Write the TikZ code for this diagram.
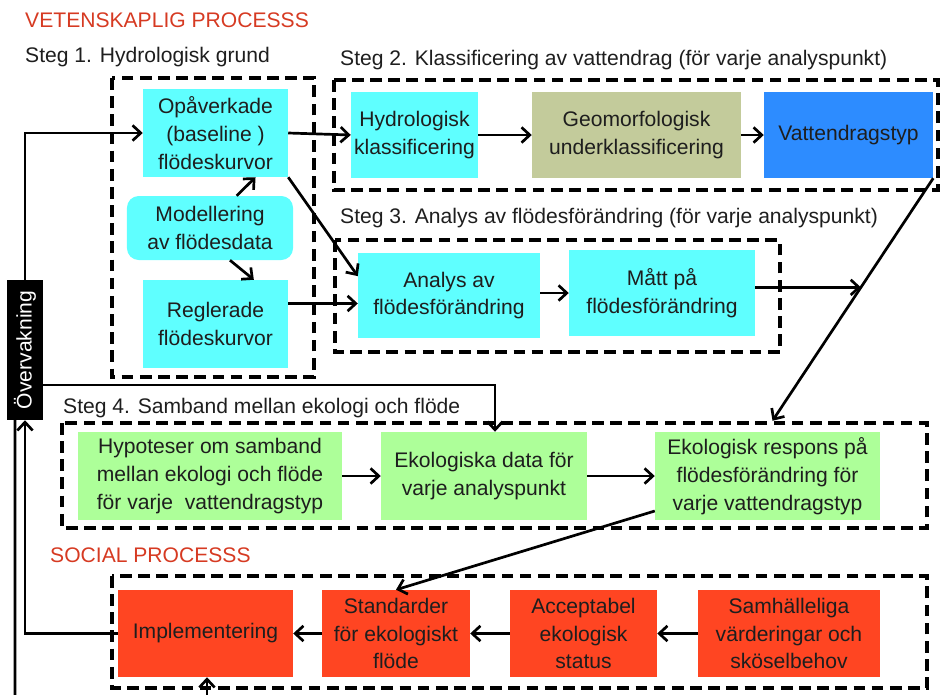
\documentclass[tikz,border=0pt]{standalone}
\usepackage{fontspec}
\setmainfont{Liberation Sans}
\usetikzlibrary{arrows.meta}
\definecolor{flowCyan}{HTML}{5FFFFF}
\definecolor{flowOlive}{HTML}{C3CB9B}
\definecolor{flowBlue}{HTML}{2D8CFF}
\definecolor{flowGreen}{HTML}{ADFF99}
\definecolor{flowRed}{HTML}{FF4522}
\definecolor{titleRed}{HTML}{D63A22}
\definecolor{textGray}{HTML}{1E1E1E}

\begin{document}
\begin{tikzpicture}[x=0.03cm, y=-0.03cm,
    every node/.style={font=\fontsize{18}{23.8}\selectfont, text=textGray},
    box/.style={align=center, inner sep=2pt},
    cyanbox/.style={box, fill=flowCyan},
    greenbox/.style={box, fill=flowGreen, minimum height=2.64cm},
    redbox/.style={box, fill=flowRed, minimum height=2.61cm},
    steglabel/.style={anchor=west, inner sep=0pt},
    groupbox/.style={line width=2.8pt, dash pattern=on 10pt off 5.5pt},
    arr/.style={line width=2.3pt, -{Straight Barb[length=7pt,width=13pt,line width=2.3pt]}}]
    \useasboundingbox (0,0) rectangle (942,695);

    % rubriker
    \node[steglabel, text=titleRed] (titlesci) at (25,20) {VETENSKAPLIG PROCESSS};
    \node[steglabel] (lab1) at (25,57) {Steg 1. Hydrologisk grund};
    \node[steglabel] (lab2) at (340,60) {Steg 2. Klassificering av vattendrag (för varje analyspunkt)};
    \node[steglabel] (lab3) at (340,218) {Steg 3. Analys av flödesförändring (för varje analyspunkt)};
    \node[steglabel] (lab4) at (63,408) {Steg 4. Samband mellan ekologi och flöde};
    \node[steglabel, text=titleRed] (titlesoc) at (50,555) {SOCIAL PROCESSS};

    % streckade grupper
    \draw[groupbox] (112,78) rectangle (314,377);
    \draw[groupbox] (334,80) rectangle (938,190);
    \draw[groupbox] (335,240) rectangle (780,352);
    \draw[groupbox] (62,423) rectangle (927,528);
    \draw[groupbox] (112,576) rectangle (927,688);

    % steg 1
    \node[cyanbox, minimum width=4.35cm, minimum height=2.64cm] (opav) at (215.5,133) {Opåverkade\\(baseline )\\flödeskurvor};
    \node[cyanbox, rounded corners=10pt, minimum width=4.98cm, minimum height=1.92cm] (model) at (210,228) {Modellering\\av flödesdata};
    \node[cyanbox, minimum width=4.35cm, minimum height=2.64cm] (regl) at (215.5,324) {Reglerade\\flödeskurvor};

    % steg 2
    \node[cyanbox, minimum width=3.81cm, minimum height=2.58cm] (hydro) at (414.5,135) {Hydrologisk\\klassificering};
    \node[box, fill=flowOlive, minimum width=6.27cm, minimum height=2.58cm] (geomorf) at (636.5,135) {Geomorfologisk\\underklassificering};
    \node[box, fill=flowBlue, minimum width=5.07cm, minimum height=2.58cm] (vtyp) at (848.5,135) {Vattendragstyp};

    % steg 3
    \node[cyanbox, minimum width=5.46cm, minimum height=2.55cm] (analys) at (449,295.5) {Analys av\\flödesförändring};
    \node[cyanbox, minimum width=5.58cm, minimum height=2.58cm] (matt) at (662,293) {Mått på\\flödesförändring};

    % steg 4
    \node[greenbox, minimum width=7.92cm] (hypo) at (210,476) {Hypoteser om samband\\mellan ekologi och flöde\\för varje \ vattendragstyp};
    \node[greenbox, minimum width=6.18cm] (ekodata) at (484,476) {Ekologiska data för\\varje analyspunkt};
    \node[greenbox, minimum width=6.75cm] (ekoresp) at (767.5,476) {Ekologisk respons på\\flödesförändring för\\varje vattendragstyp};

    % social process
    \node[redbox, minimum width=5.25cm] (impl) at (205.5,633.5) {Implementering};
    \node[redbox, minimum width=4.44cm] (std) at (396,633.5) {Standarder\\för ekologiskt\\flöde};
    \node[redbox, minimum width=4.41cm] (accept) at (583.5,633.5) {Acceptabel\\ekologisk\\status};
    \node[redbox, minimum width=5.46cm] (samh) at (789,633.5) {Samhälleliga\\värderingar och\\sköselbehov};

    \node[fill=black, text=white, inner sep=0pt, minimum width=1.08cm, minimum height=4.2cm] (overv) at (25,350) {\rotatebox{90}{Övervakning}};

    % pilar
    \draw[arr] (overv.north) |- (opav.west);
    \draw[arr] (opav.east) -- (hydro.west);
    \draw[arr] (opav.south east) -- (analys.168);
    \draw[arr] ([xshift=0.8cm]model.north) -- ([xshift=1.2cm]opav.south);
    \draw[arr] ([xshift=0.6cm]model.south) -- ([xshift=1.15cm]regl.north);
    \draw[arr] (regl.east |- analys.185) -- (analys.185);
    \draw[arr] (hydro.east) -- (geomorf.west);
    \draw[arr] (geomorf.east) -- (vtyp.west);
    \draw[arr] (analys.east |- matt.west) -- (matt.west);
    \draw[arr] (vtyp.south east) -- coordinate[pos=0.45] (diagmid) ([xshift=0.15cm,yshift=0.33cm]ekoresp.north);
    \draw[arr] (matt.east |- diagmid) -- (diagmid);
    \draw[arr] ([yshift=-1.05cm]overv.east) -| ([xshift=0.33cm]ekodata.north);
    \draw[arr] (hypo.east) -- (ekodata.west);
    \draw[arr] (ekodata.east) -- (ekoresp.west);
    \draw[arr] ([yshift=-1.05cm]ekoresp.west) -- (std.north);
    \draw[arr] (samh.west) -- (accept.east);
    \draw[arr] (accept.west) -- (std.east);
    \draw[arr] (std.west) -- (impl.east);
    \draw[arr] (impl.west) -| (overv.south);
    \coordinate (bottomleft) at (15,700);
    \coordinate (bottomin) at (207,700);
    \draw[line width=2.3pt] ([xshift=-0.3cm]overv.south) -- (bottomleft);
    \draw[arr] (bottomin) -- (bottomin |- impl.south);
\end{tikzpicture}
\end{document}
